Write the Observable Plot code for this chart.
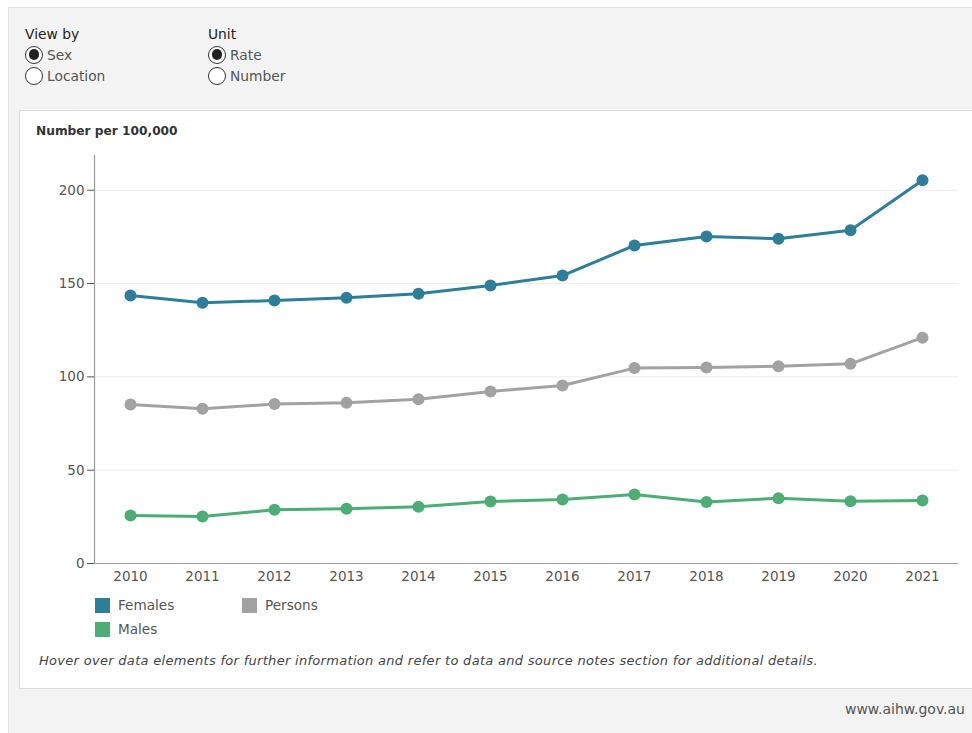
<!DOCTYPE html>
<html>
<head>
<meta charset="utf-8">
<script src="https://cdn.jsdelivr.net/npm/d3@7"></script>
<script src="https://cdn.jsdelivr.net/npm/@observablehq/plot@0.6"></script>
<style>
  body { margin: 0; background: #ffffff; font-family: "DejaVu Sans", sans-serif; }
  #page { position: absolute; left: 0; top: 0; width: 972px; height: 733px; overflow: hidden; }
  #outer { position: absolute; left: 8px; top: 7px; width: 970px; height: 730px; background: #f3f3f3; border: 1px solid #e3e3e3; }
  #panel { position: absolute; left: 19px; top: 110px; width: 960px; height: 577px; background: #fff; border: 1px solid #dcdcdc; }
  .ctl { position: absolute; font-size: 13.8px; color: #333; }
  .ctl .h { color: #222; height: 20px; line-height: 20px; }
  .opt { display: flex; align-items: center; height: 21px; color: #555; }
  .radio { width: 18px; height: 18px; border: 1.3px solid #333; border-radius: 50%; box-sizing: border-box; margin-right: 4px; position: relative; background: #fff; }
  .radio.on::after { content: ""; position: absolute; left: 2.5px; top: 2.5px; width: 10.5px; height: 10.5px; border-radius: 50%; background: #222; }
  #ytitle { position: absolute; left: 36px; top: 124px; font-size: 12.2px; font-weight: bold; color: #333; }
  #chart { position: absolute; left: 0; top: 140px; }
  .leg { position: absolute; font-size: 13.6px; color: #555; display: flex; align-items: center; }
  .sw { width: 15px; height: 15px; margin-right: 8px; }
  #caption { position: absolute; left: 39px; top: 653px; font-size: 13px; letter-spacing: 0.3px; font-style: italic; color: #444; white-space: nowrap; }
  #src { position: absolute; right: 7px; top: 701px; font-size: 14px; color: #555; }
</style>
</head>
<body>
<div id="page">
  <div id="outer"></div>
  <div class="ctl" style="left:25px; top:24px;">
    <div class="h">View by</div>
    <div class="opt"><span class="radio on"></span>Sex</div>
    <div class="opt"><span class="radio"></span>Location</div>
  </div>
  <div class="ctl" style="left:208px; top:24px;">
    <div class="h">Unit</div>
    <div class="opt"><span class="radio on"></span>Rate</div>
    <div class="opt"><span class="radio"></span>Number</div>
  </div>
  <div id="panel"></div>
  <div id="ytitle">Number per 100,000</div>
  <div id="chart"></div>
  <div id="legend"></div>
  <div id="caption">Hover over data elements for further information and refer to data and source notes section for additional details.</div>
  <div id="src">www.aihw.gov.au</div>
</div>
<script>
const years = [2010, 2011, 2012, 2013, 2014, 2015, 2016, 2017, 2018, 2019, 2020, 2021];
const females = [143.6, 139.7, 140.9, 142.4, 144.5, 149.0, 154.3, 170.4, 175.2, 174.0, 178.5, 205.3];
const persons = [85.2, 82.9, 85.4, 86.1, 88.0, 92.2, 95.4, 104.7, 105.0, 105.7, 107.0, 121.0];
const males = [25.7, 25.2, 28.8, 29.3, 30.4, 33.2, 34.3, 37.0, 32.9, 35.0, 33.4, 33.8];
const seriesNames = ["Females", "Persons", "Males"];
const seriesColors = ["#2d7e99", "#a2a2a2", "#4cae74"];
const yTicks = [0, 50, 100, 150, 200];

const seriesValues = [females, persons, males];
const data = [];
seriesNames.forEach((s, i) => years.forEach((y, j) => data.push({series: s, year: y, value: seriesValues[i][j]})));

const plot = Plot.plot({
  width: 972,
  height: 460,
  marginLeft: 94,
  marginRight: 14,
  marginTop: 15,
  marginBottom: 37,
  style: { fontFamily: "'DejaVu Sans', sans-serif", fontSize: "13.5px", color: "#555", background: "transparent" },
  x: { domain: [2009.5, 2021.5], ticks: years, tickFormat: d => String(d), tickSize: 0, tickPadding: 8, label: null },
  y: { domain: [0, 218.6], ticks: yTicks, tickSize: 7, tickPadding: 3, label: null },
  color: { domain: seriesNames, range: seriesColors },
  marks: [
    Plot.ruleY(yTicks.filter(d => d > 0), { stroke: "#ececec", strokeWidth: 1 }),
    Plot.ruleY([0], { stroke: "#999", strokeWidth: 1.2 }),
    Plot.ruleX([2009.5], { stroke: "#999", strokeWidth: 1.2 }),
    Plot.line(data, { x: "year", y: "value", z: "series", stroke: "series", strokeWidth: 3 }),
    Plot.dot(data, { x: "year", y: "value", fill: "series", r: 6 })
  ]
});
document.getElementById("chart").appendChild(plot);

const legendPos = [[95, 597], [242, 597], [95, 621]];
const legend = document.getElementById("legend");
seriesNames.forEach((s, i) => {
  const el = document.createElement("div");
  el.className = "leg";
  el.style.left = legendPos[i][0] + "px";
  el.style.top = legendPos[i][1] + "px";
  el.innerHTML = `<span class="sw" style="background:${seriesColors[i]}"></span>${s}`;
  legend.appendChild(el);
});
</script>
</body>
</html>
